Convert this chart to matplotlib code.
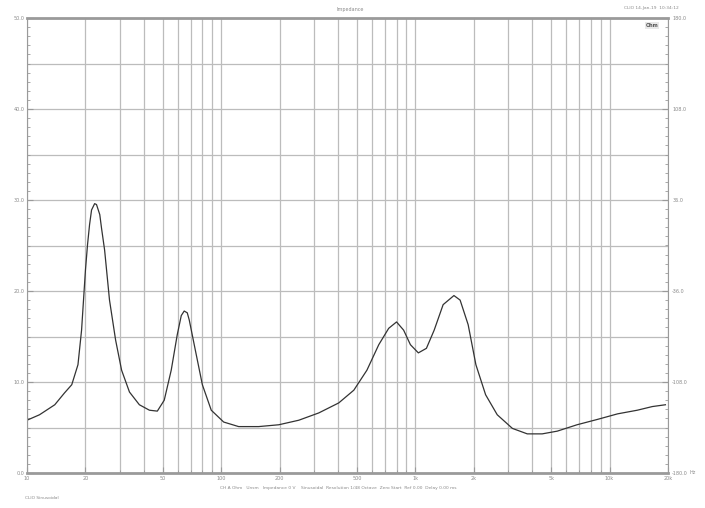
import matplotlib
matplotlib.use('Agg')
import matplotlib.pyplot as plt
from matplotlib.ticker import LogLocator, FixedLocator, NullFormatter, MultipleLocator

# impedance curve (Hz, Ohm)
freq = [10, 11.6, 13.9, 15.6, 17.0, 18.3, 19.1, 20.0, 20.5, 21.0, 21.5, 22.3,
        22.8, 23.7, 24.2, 25.1, 26.6, 28.6, 30.7, 33.7, 37.9, 42.7, 46.9, 50.9,
        55.3, 59.4, 62.3, 64.5, 66.9, 68.5, 73.6, 80, 88.9, 103, 123, 156, 198,
        251, 318, 403, 482, 563, 648, 729, 800, 870, 943, 1036, 1140, 1250,
        1390, 1580, 1700, 1870, 2050, 2300, 2640, 3160, 3770, 4500, 5380, 6800,
        8700, 11000, 13900, 16600, 19400]
ohm = [5.8, 6.4, 7.5, 8.8, 9.7, 11.9, 15.7, 22.3, 25.1, 27.3, 28.9, 29.6,
       29.5, 28.4, 26.9, 24.5, 19.0, 14.6, 11.3, 8.9, 7.5, 6.9, 6.8, 8.0,
       11.3, 15.2, 17.3, 17.8, 17.6, 16.8, 13.5, 9.7, 6.9, 5.6, 5.1, 5.1, 5.3,
       5.8, 6.6, 7.7, 9.1, 11.3, 14.1, 15.9, 16.6, 15.7, 14.1, 13.2, 13.7, 15.7,
       18.5, 19.5, 19.0, 16.3, 11.9, 8.6, 6.4, 4.9, 4.3, 4.3, 4.6, 5.3,
       5.9, 6.5, 6.9, 7.3, 7.5]

x_ticks = [10, 20, 50, 100, 200, 500, 1000, 2000, 5000, 10000, 20000]
x_labels = ['10', '20', '50', '100', '200', '500', '1k', '2k', '5k', '10k', '20k']
y_ticks = [0, 10, 20, 30, 40, 50]
deg_ticks = [-180, -108, -36, 36, 108, 180]

grey = '#9a9a9a'
txt = '#8a8a8a'
gridc = '#bcbcbc'

fig = plt.figure(figsize=(7.05, 5.08), dpi=100)
ax = fig.add_axes([27 / 705, 1 - 473 / 508, (668 - 27) / 705, (473 - 18) / 508])

ax.semilogx(freq, ohm, color='#333333', linewidth=0.9)
ax.set_xlim(10, 20000)
ax.set_ylim(0, 50)

ax.xaxis.set_major_locator(FixedLocator(x_ticks))
ax.set_xticklabels(x_labels)
ax.xaxis.set_minor_locator(LogLocator(base=10, subs=range(1, 10), numticks=20))
ax.xaxis.set_minor_formatter(NullFormatter())
ax.yaxis.set_major_locator(FixedLocator(y_ticks))
ax.set_yticklabels(['%.1f' % v for v in y_ticks])
ax.yaxis.set_minor_locator(MultipleLocator(1))

ax.grid(True, which='both', axis='x', color=gridc, linewidth=0.9)
ax.grid(True, which='major', axis='y', color=gridc, linewidth=0.9)
for v in range(5, 50, 10):
    ax.axhline(v, color=gridc, linewidth=0.9, zorder=0)

ax.tick_params(which='both', direction='in', colors=grey, labelcolor=txt, labelsize=3.5, pad=2)
ax.tick_params(which='major', length=4)
ax.tick_params(which='minor', length=2)

for s in ax.spines.values():
    s.set_color(grey)
    s.set_linewidth(0.8)
ax.spines['top'].set_linewidth(2)
ax.spines['bottom'].set_linewidth(2)

ax2 = ax.twinx()
ax2.set_ylim(-180, 180)
ax2.yaxis.set_major_locator(FixedLocator(deg_ticks))
ax2.set_yticklabels(['%.1f' % v for v in deg_ticks])
ax2.yaxis.set_minor_locator(MultipleLocator(7.2))
ax2.tick_params(which='both', direction='in', colors=grey, labelcolor=txt, labelsize=3.5, pad=3)
ax2.tick_params(which='major', length=4)
ax2.tick_params(which='minor', length=2)
for s in ax2.spines.values():
    s.set_visible(False)

fig.text(0.497, 0.982, 'Impedance', ha='center', va='center', fontsize=3.5, color=txt)
fig.text(0.963, 0.984, 'CLIO 14-Jan-19  10:34:12', ha='right', va='center', fontsize=3.2, color=txt)
ax.text(0.985, 0.99, 'Ohm', transform=ax.transAxes, ha='right', va='top', fontsize=3.5,
        color='#555555', fontweight='bold',
        bbox=dict(boxstyle='square,pad=0.2', facecolor='#e8e8e8', edgecolor='none'))
fig.text(0.978, 0.069, 'Hz', ha='left', va='center', fontsize=3.5, color=txt)
fig.text(0.48, 0.040, 'CH A Ohm   Unsm   Impedance 0 V    Sinusoidal  Resolution 1/48 Octave  Zero Start  Ref 0.00  Delay 0.00 ms',
         ha='center', va='center', fontsize=3.2, color=txt)
fig.text(0.036, 0.019, 'CLIO Sinusoidal', ha='left', va='center', fontsize=3.2, color=txt)

fig.savefig('out.png', dpi=100, facecolor='white')
